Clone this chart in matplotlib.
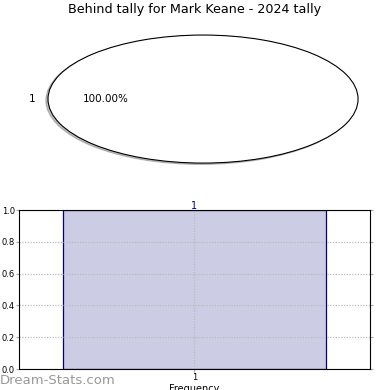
import matplotlib
matplotlib.use("Agg")
import matplotlib.pyplot as plt

# tally data
title = "Behind tally for Mark Keane - 2024 tally"
pie_labels = ["1"]
pie_sizes = [1]
bar_categories = [1]
bar_values = [1]

fig = plt.figure(figsize=(3.9, 3.9), dpi=100)

# pie on top (not equal aspect, so it is drawn as an ellipse)
ax_pie = fig.add_axes([0.0436, 0.549, 0.954, 0.394])
ax_pie.pie(pie_sizes, labels=pie_labels, autopct="%1.2f%%", pctdistance=0.63,
           labeldistance=1.08, shadow={"ox": -0.01, "oy": -0.015, "shade": 0.5},
           colors=["white"],
           wedgeprops={"edgecolor": "black", "linewidth": 0.8},
           textprops={"fontsize": 7.5})
ax_pie.set_xlim(-1.2, 1.2)
ax_pie.set_ylim(-1.2, 1.2)
ax_pie.set_aspect("auto")
ax_pie.axis("off")

fig.text(0.5, 1 - 10 / 390, title, ha="center", va="center", fontsize=9.2)

# frequency bar chart below
ax_bar = fig.add_axes([0.0487, 0.0538, 0.9, 0.4077])
bars = ax_bar.bar(bar_categories, bar_values, width=0.75,
                  color=(0, 0, 0.5, 0.2), edgecolor="navy", linewidth=0.9)
for b, v in zip(bars, bar_values):
    ax_bar.annotate(str(v), (b.get_x() + b.get_width() / 2, v), xytext=(0, 3),
                    textcoords="offset points", ha="center", va="center",
                    color="navy", fontsize=7)
ax_bar.set_xlim(0.5, 1.5)
ax_bar.set_ylim(0, 1.0)
ax_bar.set_xticks(bar_categories)
ax_bar.set_yticks([0.0, 0.2, 0.4, 0.6, 0.8, 1.0])
ax_bar.tick_params(labelsize=6, direction="out", length=2, color="#aaaaaa",
                   right=True, pad=1)
ax_bar.set_axisbelow("line")
ax_bar.grid(True, linestyle=(0, (1, 1.2)), color="#bbbbbb", linewidth=0.9)
ax_bar.set_xlabel("Frequency", fontsize=7, labelpad=1)

fig.text(0.0, 1 - 380 / 390, "Dream-Stats.com", fontsize=9.5,
         color="#999999", ha="left", va="center")

fig.savefig("out.png", dpi=100)
